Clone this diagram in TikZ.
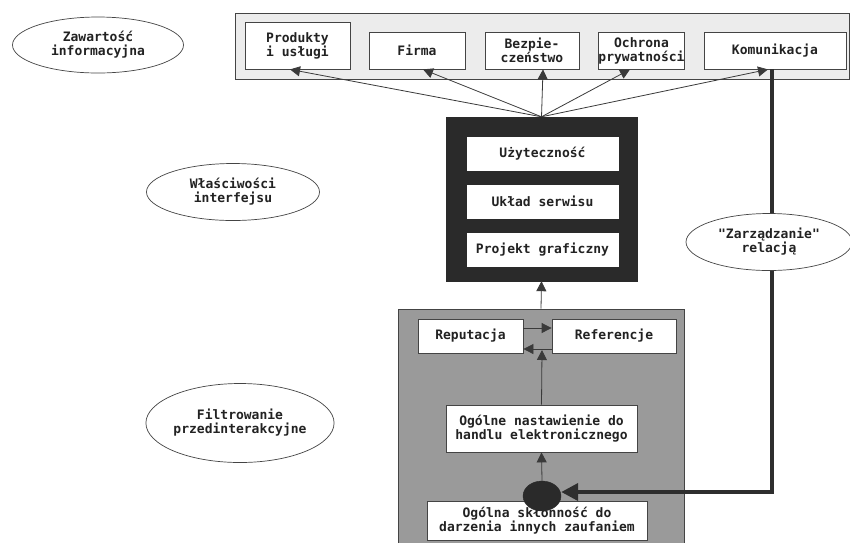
\documentclass[tikz,border=0pt]{standalone}
\usepackage{fontspec}
\newfontfamily\dmono{DejaVu Sans Mono}
\usetikzlibrary{arrows.meta,shapes.geometric}
\definecolor{txt}{HTML}{222222}
\definecolor{edgec}{HTML}{444444}
\definecolor{arrc}{HTML}{3a3a3a}
\definecolor{thickc}{HTML}{2e2e2e}
\definecolor{panelc}{HTML}{ECECEC}
\definecolor{darkc}{HTML}{2A2A2A}
\definecolor{grayc}{HTML}{9A9A9A}
\begin{document}
\begin{tikzpicture}[x=1pt,y=-1pt,
 every node/.style={font=\dmono\bfseries\fontsize{13}{14}\selectfont, text=txt, align=center, inner sep=0pt},
 wbox/.style={draw=edgec, fill=white, line width=0.8pt},
 lbl/.style={ellipse, draw=edgec, fill=white, line width=0.7pt},
 arr/.style={draw=arrc, line width=0.8pt, -{Triangle[length=10pt,width=10pt]}},
 bigarr/.style={draw=thickc, line width=4pt, -{Triangle[length=17pt,width=17pt]}}
]
\clip (0,0) rectangle (850,542);
\fill[white] (0,0) rectangle (850,542);

% panels
\node[draw=edgec, fill=panelc, line width=0.8pt, minimum width=614pt, minimum height=66pt] (toppanel) at (542,46) {};
\node[draw=darkc, fill=darkc, minimum width=191pt, minimum height=164pt] (black) at (541.5,199) {};
\node[draw=edgec, fill=grayc, line width=0.8pt, minimum width=286pt, minimum height=240pt] (graypanel) at (541,429) {};

% top boxes
\node[wbox, minimum width=105pt, minimum height=47pt] (prod) at (297.5,45.5) {Produkty\\i usługi};
\node[wbox, minimum width=96pt, minimum height=37pt] (firma) at (417,50.5) {Firma};
\node[wbox, minimum width=94pt, minimum height=37pt] (bezp) at (532,50.5) {Bezpie-\\czeństwo};
\node[wbox, minimum width=85pt, minimum height=37pt] (ochr) at (641.5,50.5) {Ochrona\\prywatności};
\node[wbox, minimum width=142pt, minimum height=37pt] (komu) at (775,50.5) {Komunikacja};

% interface boxes
\node[wbox, draw=white, minimum width=151pt, minimum height=33pt] (uz) at (542.5,153.5) {Użyteczność};
\node[wbox, draw=white, minimum width=151pt, minimum height=33pt] (uklad) at (542.5,201.5) {Układ serwisu};
\node[wbox, draw=white, minimum width=151pt, minimum height=33pt] (proj) at (542.5,249.5) {Projekt graficzny};

% filtering boxes
\node[wbox, minimum width=105pt, minimum height=34pt] (rep) at (470.5,336) {Reputacja};
\node[wbox, minimum width=124pt, minimum height=34pt] (ref) at (614,336) {Referencje};
\node[wbox, minimum width=191pt, minimum height=47pt] (ogol) at (541.5,428.5) {Ogólne nastawienie do\\handlu elektronicznego};
\node[wbox, minimum width=220pt, minimum height=39pt] (sklon) at (537,520.5) {Ogólna skłonność do\\darzenia innych zaufaniem};
\node[ellipse, fill=darkc, draw=darkc, minimum width=38pt, minimum height=30pt] (dot) at (542,496) {};
\coordinate (mid) at (542,350);

% arrows
\draw[arr] (black.north) -- ([xshift=-7.5pt]prod.south);
\draw[arr] (black.north) -- ([xshift=6pt]firma.south);
\draw[arr] (black.north) -- ([xshift=11pt]bezp.south);
\draw[arr] (black.north) -- ([xshift=-11.5pt]ochr.south);
\draw[arr] (black.north) -- ([xshift=-7pt]komu.south);
\draw[arr] (graypanel.north) -- (black.south);
\draw[arr] ([yshift=8pt]rep.east) -- ([yshift=8pt]ref.west);
\draw[arr] ([yshift=-13pt]ref.west) -- ([yshift=-13pt]rep.east);
\draw[arr] (ogol.north) -- (mid);
\draw[arr] (dot.north) -- (ogol.south);
\draw[bigarr] ([xshift=-3pt]komu.south) |- ([yshift=4pt]dot.east);

% labels
\node[lbl, minimum width=171pt, minimum height=56pt] (zaw) at (98,45) {Zawartość\\informacyjna};
\node[lbl, minimum width=173pt, minimum height=57pt] (wlas) at (233,192) {Właściwości\\interfejsu};
\node[lbl, minimum width=173pt, minimum height=79pt] (filt) at (240,423) {Filtrowanie\\przedinterakcyjne};
\node[lbl, minimum width=166pt, minimum height=57pt] (zarz) at (769,242) {"Zarządzanie"\\relacją};
\end{tikzpicture}
\end{document}
